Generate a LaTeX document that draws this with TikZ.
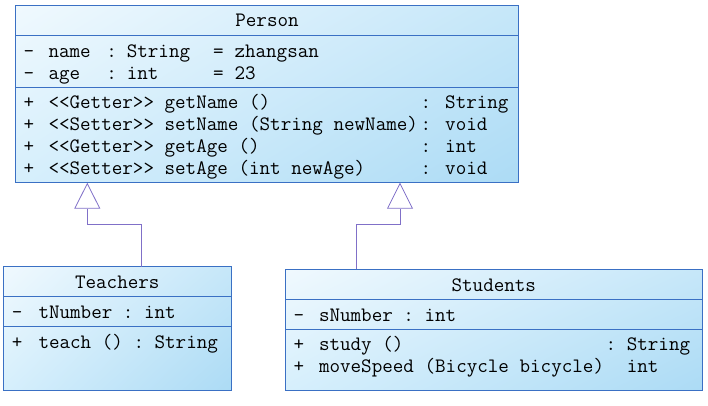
\documentclass[tikz,border=0pt]{standalone}
\usepackage{fontspec}
\usetikzlibrary{shadings,arrows.meta}
\definecolor{boxborder}{HTML}{3A70C4}
\definecolor{inhline}{HTML}{8070C8}
\definecolor{shUL}{HTML}{F0F9FE}
\definecolor{shUR}{HTML}{C6E7F9}
\definecolor{shLL}{HTML}{D6EFFC}
\definecolor{shLR}{HTML}{ACDBF5}
\frenchspacing
\begin{document}
\begin{tikzpicture}[x=1pt,y=-1pt,
  classbox/.style={draw=boxborder, line width=1pt, inner sep=0pt, outer sep=0pt, anchor=north west,
    upper left=shUL, upper right=shUR, lower left=shLL, lower right=shLR},
  divider/.style={draw=boxborder, line width=1pt},
  txt/.style={inner sep=0pt, outer sep=0pt, anchor=base west, font=\ttfamily\frenchspacing\fontsize{20.5}{22}\selectfont, text=black},
  ctxt/.style={txt, anchor=base},
  inh/.style={draw=inhline, line width=0.8pt, -{Triangle[open, length=26pt, width=26pt]}}]
\useasboundingbox (0,0) rectangle (708,405);

% ---------- Person ----------
\node[classbox, minimum width=503.4pt, minimum height=177.7pt] (person) at (15.3,5) {};
\draw[divider] (person.west |- 0,35) -- (person.east |- 0,35);
\draw[divider] (person.west |- 0,87.5) -- (person.east |- 0,87.5);
\node[ctxt] (ptitle) at (person.north |- 0,26.3) {Person};
\node[txt] (pa1v) at (23.5,57) {-};
\node[txt] (pa1n) at (48.5,57) {name};
\node[ctxt] (pa1c) at (111.7,57) {:};
\node[txt] (pa1t) at (126.8,57) {String};
\node[ctxt] (pa1e) at (218.3,57) {=};
\node[txt] (pa1d) at (234.5,57) {zhangsan};
\node[txt] (pa2v) at (23.5,79) {-};
\node[txt] (pa2n) at (48.5,79) {age};
\node[ctxt] (pa2c) at (111.7,79) {:};
\node[txt] (pa2t) at (126.8,79) {int};
\node[ctxt] (pa2e) at (218.3,79) {=};
\node[txt] (pa2d) at (234.5,79) {23};
\node[txt] (pm1v) at (23.5,108.5) {+};
\node[txt] (pm1n) at (48.5,108.5) {<<Getter>> getName ()};
\node[ctxt] (pm1c) at (426,108.5) {:};
\node[txt] (pm1t) at (445.2,108.5) {String};
\node[txt] (pm2v) at (23.5,130.5) {+};
\node[txt] (pm2n) at (48.5,130.5) {<<Setter>> setName (String newName)};
\node[ctxt] (pm2c) at (426,130.5) {:};
\node[txt] (pm2t) at (445.2,130.5) {void};
\node[txt] (pm3v) at (23.5,152.5) {+};
\node[txt] (pm3n) at (48.5,152.5) {<<Getter>> getAge ()};
\node[ctxt] (pm3c) at (426,152.5) {:};
\node[txt] (pm3t) at (445.2,152.5) {int};
\node[txt] (pm4v) at (23.5,174.5) {+};
\node[txt] (pm4n) at (48.5,174.5) {<<Setter>> setAge (int newAge)};
\node[ctxt] (pm4c) at (426,174.5) {:};
\node[txt] (pm4t) at (445.2,174.5) {void};

% ---------- Teachers ----------
\node[classbox, minimum width=228pt, minimum height=124pt] (teachers) at (3.3,266.7) {};
\draw[divider] (teachers.west |- 0,296.7) -- (teachers.east |- 0,296.7);
\draw[divider] (teachers.west |- 0,326) -- (teachers.east |- 0,326);
\node[ctxt] (ttitle) at (teachers.north |- 0,288.3) {Teachers};
\node[txt] (ta1v) at (12,318.3) {-};
\node[txt] (ta1n) at (38.5,318.3) {tNumber : int};
\node[txt] (tm1v) at (12,348.3) {+};
\node[txt] (tm1n) at (38.5,348.3) {teach () : String};

% ---------- Students ----------
\node[classbox, minimum width=417pt, minimum height=120.7pt] (students) at (285.3,269.3) {};
\draw[divider] (students.west |- 0,299.3) -- (students.east |- 0,299.3);
\draw[divider] (students.west |- 0,329.3) -- (students.east |- 0,329.3);
\node[ctxt] (stitle) at (students.north |- 0,291) {Students};
\node[txt] (sa1v) at (293.5,321.7) {-};
\node[txt] (sa1n) at (319,321.7) {sNumber : int};
\node[txt] (sm1v) at (293.5,350.7) {+};
\node[txt] (sm1n) at (319,350.7) {study ()};
\node[ctxt] (sm1c) at (611,350.7) {:};
\node[txt] (sm1t) at (626.8,350.7) {String};
\node[txt] (sm2v) at (293.5,372.7) {+};
\node[txt] (sm2n) at (319,372.7) {moveSpeed (Bicycle bicycle)};
\node[txt] (sm2t) at (626.8,372.7) {int};

% ---------- Generalizations ----------
\coordinate (tj) at (87.3,224.3);
\coordinate (sj) at (400,224.3);
\draw[inh] ([xshift=24pt]teachers.north) |- (tj) -- (tj |- person.south);
\draw[inh] ([xshift=-137.1pt]students.north) |- (sj) -- (sj |- person.south);
\end{tikzpicture}
\end{document}
